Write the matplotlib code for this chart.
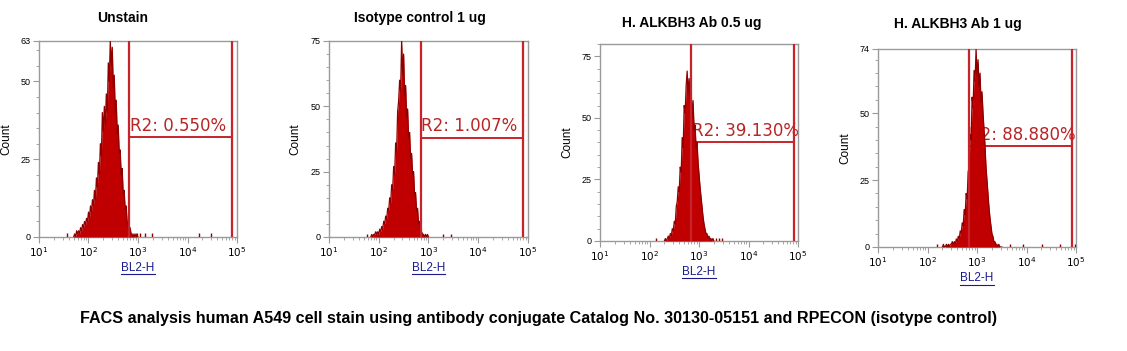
import numpy as np
import matplotlib
matplotlib.use('Agg')
import matplotlib.pyplot as plt
from matplotlib.ticker import FixedLocator, LogLocator, NullFormatter, AutoMinorLocator

# --- data (log10 of BL2-H channel, counts) ---
titles = ['Unstain', 'Isotype control 1 ug', 'H. ALKBH3 Ab 0.5 ug', 'H. ALKBH3 Ab 1 ug']
gate_labels = ['R2: 0.550%', 'R2: 1.007%', 'R2: 39.130%', 'R2: 88.880%']
y_max = [63, 75, 80, 74]
y_ticks = [[0, 25, 50, 63], [0, 25, 50, 75], [0, 25, 50, 75], [0, 25, 50, 74]]
gate_lo = [2.825, 2.84, 2.84, 2.83]   # log10 position of left gate line
gate_hi = [4.90, 4.906, 4.91, 4.91]   # log10 position of right gate line
gate_y = [32, 38, 40.3, 37.7]

start1 = 1.70
counts1 = [0, 1, 0, 2, 1, 2, 1, 3, 2, 4, 3, 5, 4, 6, 5, 8, 6, 10, 8, 12,
           10, 15, 12, 19, 16, 24, 20, 30, 26, 40, 34, 42, 36, 46, 40, 56, 50, 63, 55, 61,
           48, 52, 40, 44, 33, 36, 27, 28, 20, 22, 14, 15, 9, 10, 5, 4, 2, 3, 1, 1,
           0, 1, 0, 1, 0, 0]
events1 = [1.56, 2.98, 3.05, 3.14, 3.28, 4.23, 4.47]

start2 = 1.84
counts2 = [0, 1, 0, 1, 1, 2, 1, 2, 1, 3, 2, 4, 3, 6, 5, 8, 7, 11, 10, 15,
           13, 20, 18, 27, 24, 36, 33, 48, 52, 60, 56, 75, 62, 70, 54, 58, 46, 49, 38, 40,
           30, 32, 24, 25, 16, 17, 10, 11, 5, 6, 3, 2, 1, 1, 0, 1, 0, 1, 0]
events2 = [1.77, 3.30, 3.45]

start3 = 2.30
counts3 = [0, 1, 0, 1, 2, 1, 3, 2, 5, 4, 8, 7, 14, 16, 22, 20, 30, 28, 42, 38,
           55, 52, 63, 69, 60, 66, 56, 62, 50, 57, 45, 47, 38, 40, 32, 27, 22, 18, 14, 10,
           7, 5, 3, 3, 1, 2, 1, 1, 0, 1, 0]
events3 = [2.13, 3.34, 3.40, 3.46]

start4 = 2.30
counts4 = [0, 1, 0, 0, 1, 0, 1, 0, 1, 1, 2, 1, 2, 1, 3, 2, 4, 3, 6, 5,
           9, 8, 14, 12, 20, 18, 28, 30, 42, 40, 56, 52, 66, 62, 74, 64, 70, 60, 65, 54,
           58, 50, 44, 38, 30, 25, 20, 15, 11, 8, 5, 4, 2, 2, 1, 1, 0, 1, 0, 0, 0]
events4 = [2.19, 3.67, 3.93, 4.31, 4.68, 4.98]

starts = [start1, start2, start3, start4]
counts = [counts1, counts2, counts3, counts4]
events = [events1, events2, events3, events4]
step = 0.02

# --- layout (figure fractions) ---
boxes = [[0.0346, 0.3248, 0.1757, 0.5584],
         [0.2919, 0.3248, 0.1766, 0.5584],
         [0.5324, 0.3134, 0.1757, 0.5613],
         [0.7791, 0.2963, 0.1757, 0.5641]]
title_pos = [(123, 18), (420, 18), (692, 23), (958, 24)]

hist_fill = '#c00000'
hist_line = '#8e0000'
gate_col = '#c8232a'
text_col = '#b82525'
axis_col = '#9a9a9a'
label_blue = '#1a1a8c'

plt.rcParams['font.family'] = ['Liberation Sans', 'DejaVu Sans']
fig = plt.figure(figsize=(11.27, 3.51), dpi=100)

for i in range(4):
    ax = fig.add_axes(boxes[i])
    lx = starts[i] + step * np.arange(len(counts[i]))
    x = 10 ** lx
    c = np.array(counts[i], dtype=float)
    ax.fill_between(x, 0, c, color=hist_fill, lw=0, zorder=3)
    ax.plot(x, c, color=hist_line, lw=0.9, zorder=3)
    ax.vlines(10 ** np.array(events[i]), 0, 1.2, color=hist_line, lw=1.0, zorder=3)

    # gate R2
    ax.axvline(10 ** gate_lo[i], color=gate_col, lw=1.6, zorder=4)
    ax.axvline(10 ** gate_hi[i], color=gate_col, lw=1.6, zorder=4)
    ax.plot([10 ** gate_lo[i], 10 ** gate_hi[i]], [gate_y[i], gate_y[i]],
            color=gate_col, lw=1.4, zorder=2)
    ax.text(10 ** (gate_lo[i] + 0.01), gate_y[i] + 0.9, gate_labels[i], color=text_col,
            fontsize=12, family=['DejaVu Sans'], va='bottom', ha='left', zorder=2)

    ax.set_xscale('log')
    ax.set_xlim(10, 1e5)
    ax.set_ylim(0, y_max[i])
    ax.xaxis.set_major_locator(FixedLocator([1e1, 1e2, 1e3, 1e4, 1e5]))
    ax.xaxis.set_minor_locator(LogLocator(base=10, subs=np.arange(2, 10)))
    ax.xaxis.set_minor_formatter(NullFormatter())
    ax.set_xticklabels([r'$10^{1}$', r'$10^{2}$', r'$10^{3}$', r'$10^{4}$', r'$10^{5}$'])
    ax.set_yticks(y_ticks[i])
    ax.set_yticklabels([str(t) for t in y_ticks[i]])
    ax.yaxis.set_minor_locator(AutoMinorLocator(5))
    ax.tick_params(axis='x', which='major', length=4, width=0.8, color=axis_col,
                   labelsize=7.5, pad=2)
    ax.tick_params(axis='x', which='minor', length=2.5, width=0.6, color=axis_col)
    ax.tick_params(axis='y', which='major', length=4, width=0.8, color=axis_col,
                   labelsize=6.5, pad=2)
    ax.tick_params(axis='y', which='minor', length=2.5, width=0.6, color=axis_col)
    for s in ax.spines.values():
        s.set_color(axis_col)
        s.set_linewidth(1.0)

    # axis labels placed by hand, BL2-H is underlined like a link
    ax.text(-33 / 198, 0.5, 'Count', transform=ax.transAxes, rotation=90,
            ha='center', va='center', fontsize=8.5)
    ax.text(0.5, -0.158, 'BL2-H', transform=ax.transAxes, ha='center', va='center',
            fontsize=8.5, color=label_blue)
    ax.plot([0.415, 0.585], [-0.19, -0.19], transform=ax.transAxes, color=label_blue,
            lw=0.8, clip_on=False)

    fig.text(title_pos[i][0] / 1127, 1 - title_pos[i][1] / 351, titles[i],
             ha='center', va='center', fontsize=10, fontweight='bold')

fig.text(539 / 1127, 1 - 318 / 351,
         'FACS analysis human A549 cell stain using antibody conjugate Catalog No. 30130-05151 and RPECON (isotype control)',
         ha='center', va='center', fontsize=11.6, fontweight='bold')

fig.savefig('out.png', dpi=100)
